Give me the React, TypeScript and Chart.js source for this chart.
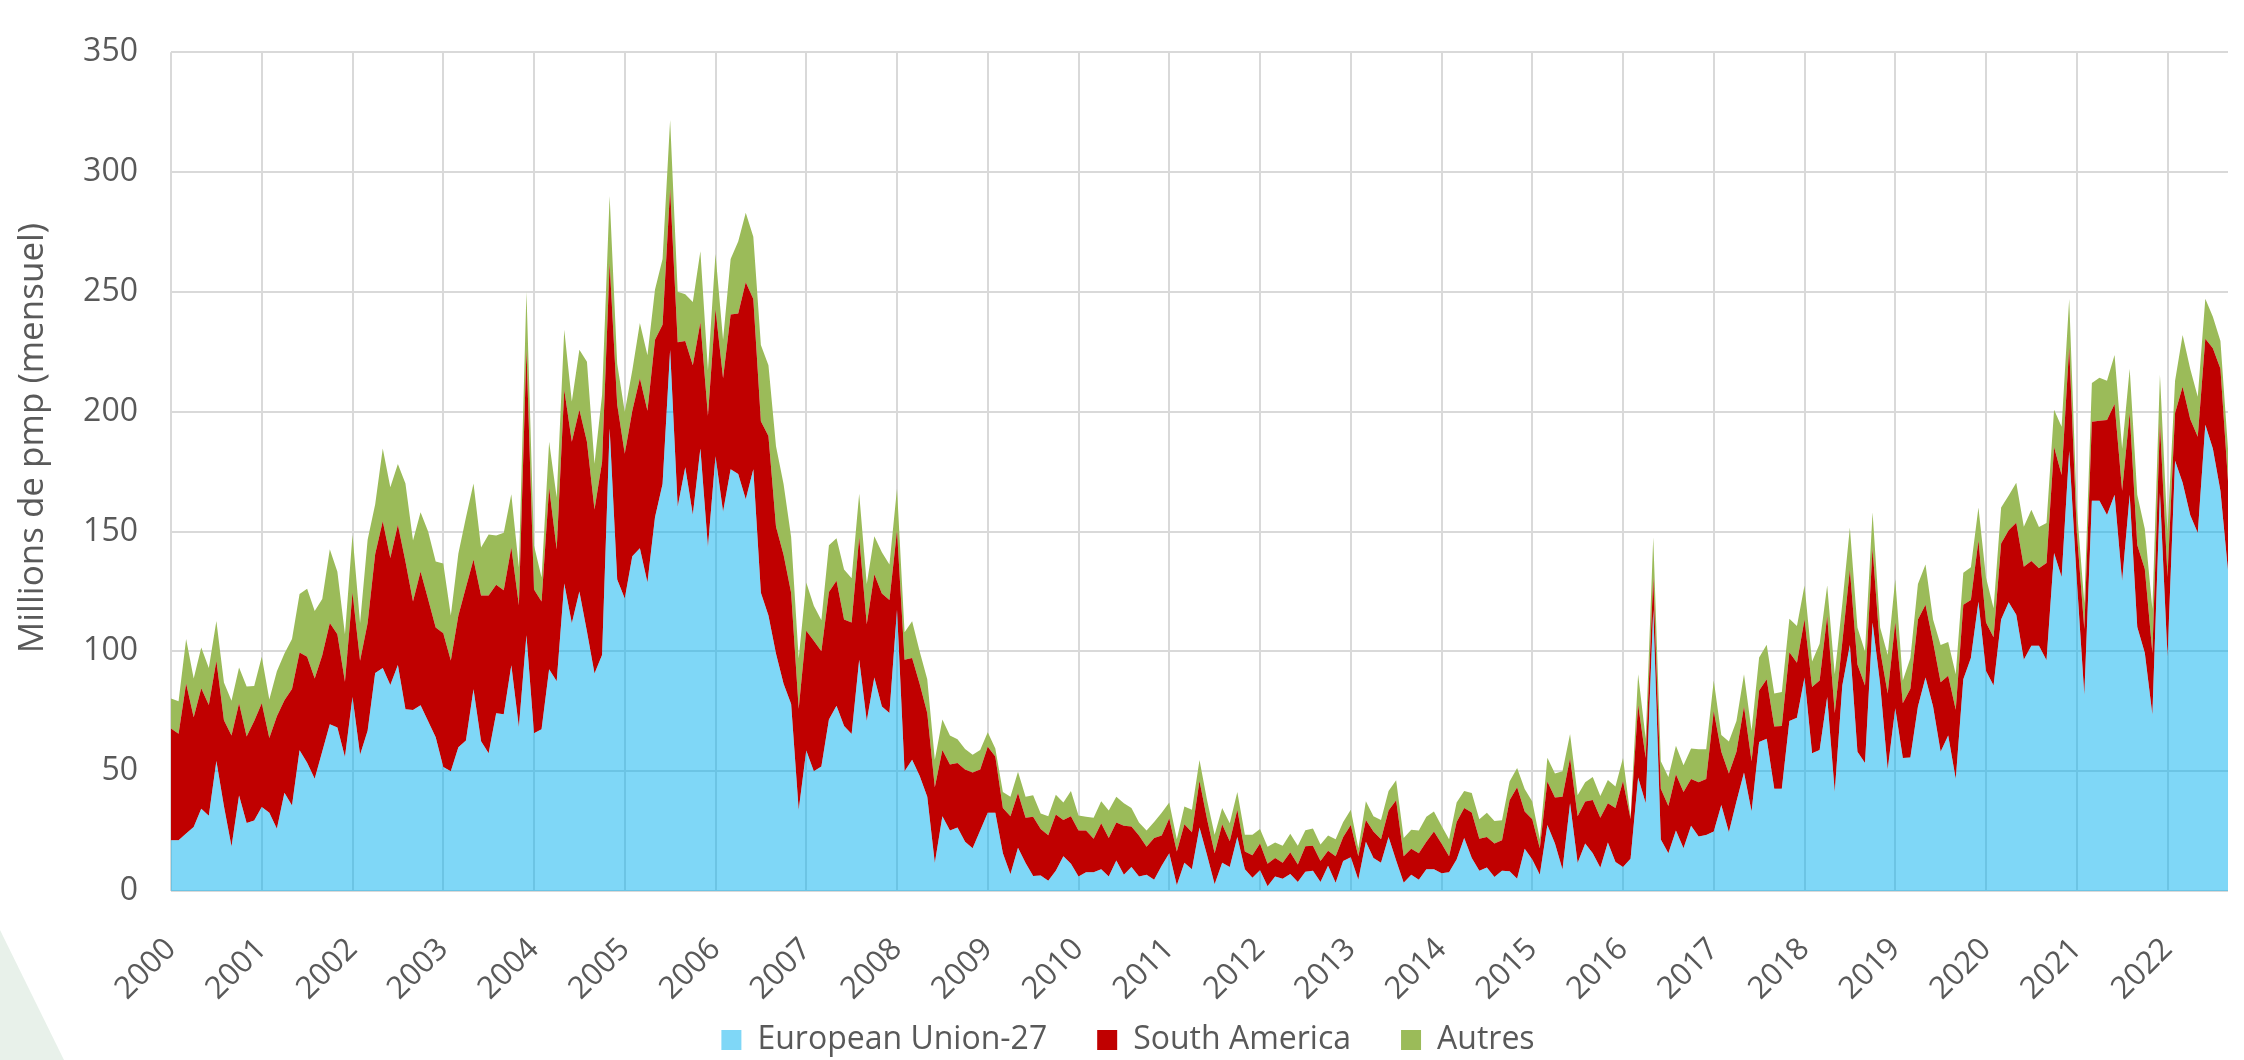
import React, { useEffect, useRef } from 'react';
import { Chart, registerables } from 'chart.js';

Chart.register(...registerables);

const years = ['2000', '2001', '2002', '2003', '2004', '2005', '2006', '2007', '2008', '2009', '2010', '2011',
  '2012', '2013', '2014', '2015', '2016', '2017', '2018', '2019', '2020', '2021', '2022'];
const monthsInLastYear = 9;

const monthLabels: string[] = [];
years.forEach((y, yi) => {
  const n = yi === years.length - 1 ? monthsInLastYear : 12;
  for (let m = 1; m <= n; m++) monthLabels.push(`${y}-${String(m).padStart(2, '0')}`);
});

const seriesNames = ['European Union-27', 'South America', 'Autres'];
const yAxisTitle = 'Millions de pmp (mensuel)';

const euValues = [
  21.2, 21.2, 24.0, 26.7, 34.3, 31.4, 54.2, 35.4, 18.6, 39.8, 28.4, 29.4,
  35.1, 32.7, 26.0, 41.0, 35.7, 58.7, 53.5, 46.8, 58.2, 69.6, 68.2, 55.9,
  81.0, 56.8, 66.9, 91.0, 93.0, 86.0, 94.3, 75.8, 75.5, 77.5, 70.8, 64.2,
  51.7, 50.0, 60.0, 62.8, 84.2, 62.5, 57.5, 74.2, 73.7, 94.2, 68.3, 106.7,
  65.8, 67.5, 92.5, 87.5, 128.3, 111.7, 125.0, 108.3, 90.8, 98.5, 193.0, 130.0,
  122.0, 139.7, 143.0, 128.7, 156.0, 169.8, 225.7, 160.3, 176.8, 157.0, 184.6, 143.5,
  181.4, 158.2, 176.0, 174.0, 163.5, 176.0, 124.5, 115.0, 99.0, 86.5, 78.0, 33.8,
  58.6, 50.0, 52.0, 71.6, 77.3, 68.9, 65.5, 96.5, 70.9, 89.1, 77.0, 74.3,
  117.4, 50.0, 54.8, 48.0, 39.3, 11.7, 31.2, 25.2, 26.5, 20.5, 17.8, 25.2,
  32.6, 32.6, 15.7, 7.0, 18.0, 11.7, 6.3, 6.5, 4.3, 8.4, 14.5, 11.4,
  6.0, 7.8, 7.8, 9.1, 6.0, 12.7, 6.8, 10.0, 6.0, 6.8, 4.7, 10.5,
  15.8, 2.4, 11.8, 9.1, 26.5, 14.9, 2.8, 11.8, 10.0, 22.5, 9.1, 5.5,
  8.7, 2.0, 6.0, 5.1, 7.1, 3.8, 8.0, 8.4, 3.8, 10.5, 3.4, 12.5,
  14.1, 4.7, 20.5, 13.8, 11.8, 22.5, 12.7, 3.4, 6.8, 4.7, 9.1, 9.1,
  7.4, 7.8, 13.1, 22.1, 13.8, 8.4, 9.8, 5.8, 8.4, 8.2, 5.1, 17.6,
  13.1, 6.8, 27.5, 19.8, 9.0, 36.6, 11.7, 19.8, 15.7, 9.7, 20.2, 12.1,
  10.0, 13.5, 47.4, 36.6, 117.4, 21.5, 15.7, 25.2, 17.8, 27.2, 22.7, 23.4,
  24.8, 35.9, 24.5, 37.3, 49.4, 33.2, 62.2, 63.5, 42.7, 42.7, 70.9, 72.3,
  89.1, 57.5, 58.8, 81.0, 41.3, 85.7, 102.6, 58.1, 53.4, 112.0, 86.4, 50.7,
  76.3, 55.5, 55.7, 77.0, 89.1, 77.0, 58.1, 64.9, 46.7, 88.4, 97.2, 120.7,
  91.8, 85.7, 113.3, 120.5, 115.3, 96.5, 102.3, 102.3, 96.3, 141.0, 131.0, 183.6,
  130.0, 81.8, 162.8, 162.8, 156.9, 165.3, 129.4, 165.3, 110.2, 99.3, 73.5, 166.1,
  97.7, 179.5, 170.3, 156.9, 149.4, 194.5, 184.5, 166.9, 133.6,
];

const southAmericaValues = [
  46.6, 44.4, 62.6, 45.8, 50.3, 46.2, 41.9, 35.8, 46.3, 38.5, 36.1, 41.5,
  43.2, 31.1, 46.9, 38.6, 48.6, 40.8, 44.2, 41.9, 40.2, 42.2, 38.9, 31.4,
  43.5, 39.3, 44.9, 49.6, 61.3, 53.0, 58.5, 61.7, 45.3, 55.8, 50.9, 45.8,
  55.8, 46.2, 55.0, 63.9, 54.1, 60.8, 65.8, 53.6, 51.8, 49.1, 50.9, 119.1,
  60.0, 53.3, 75.8, 55.0, 80.9, 75.8, 75.8, 79.2, 68.4, 80.5, 69.0, 73.0,
  60.5, 60.7, 71.0, 71.7, 74.0, 66.5, 67.3, 68.7, 52.7, 62.4, 52.7, 54.8,
  61.2, 55.8, 64.5, 67.0, 90.5, 71.0, 71.5, 74.9, 53.0, 53.8, 46.5, 42.2,
  50.0, 54.4, 48.0, 53.2, 52.2, 44.4, 46.5, 51.1, 40.4, 43.1, 47.1, 47.1,
  32.9, 46.5, 42.4, 38.4, 35.0, 31.6, 27.6, 27.6, 26.9, 30.2, 31.6, 25.5,
  27.6, 23.5, 18.9, 24.2, 22.9, 18.9, 24.7, 19.4, 19.0, 23.5, 15.1, 19.8,
  19.2, 17.4, 14.0, 19.2, 16.1, 15.9, 20.4, 16.9, 17.2, 11.7, 17.4, 12.7,
  14.4, 14.1, 16.1, 15.4, 19.5, 15.0, 13.0, 16.1, 10.8, 11.4, 7.4, 9.4,
  11.1, 9.4, 7.8, 6.7, 9.1, 7.3, 10.7, 10.5, 8.7, 6.3, 11.1, 10.0,
  13.4, 9.8, 9.1, 11.0, 9.8, 11.1, 25.2, 11.1, 10.8, 11.1, 11.4, 15.7,
  12.4, 6.7, 15.7, 12.5, 19.0, 13.4, 12.7, 14.0, 12.8, 29.7, 38.2, 15.6,
  16.8, 11.0, 18.2, 19.2, 30.3, 18.9, 19.5, 17.5, 22.3, 20.9, 16.4, 22.5,
  35.8, 16.5, 30.3, 18.9, 13.4, 21.2, 19.8, 23.5, 23.5, 19.5, 22.7, 23.3,
  50.2, 22.2, 24.5, 20.8, 27.6, 20.9, 21.5, 24.9, 25.9, 26.2, 28.7, 22.9,
  24.2, 27.6, 29.0, 33.7, 33.0, 18.2, 31.6, 36.4, 32.3, 30.9, 14.1, 31.7,
  35.7, 22.8, 28.7, 36.3, 30.3, 26.9, 29.0, 24.9, 28.9, 31.0, 24.2, 25.6,
  20.2, 20.2, 31.7, 30.0, 38.4, 38.8, 35.4, 32.4, 40.6, 44.3, 42.6, 43.4,
  20.0, 27.5, 33.0, 33.4, 39.6, 37.9, 37.6, 34.2, 34.2, 35.1, 25.8, 29.2,
  33.3, 20.0, 40.1, 40.1, 40.1, 35.9, 42.0, 51.0, 37.5,
];

const otherValues = [
  12.5, 13.6, 18.5, 16.2, 17.0, 15.4, 16.6, 15.8, 14.5, 15.0, 20.8, 14.6,
  19.4, 16.1, 18.8, 19.5, 20.8, 24.4, 28.4, 28.1, 23.4, 30.8, 26.1, 19.8,
  24.2, 15.7, 34.8, 20.8, 30.3, 29.5, 25.4, 32.5, 25.4, 24.7, 28.3, 27.5,
  29.2, 18.8, 25.8, 29.1, 31.7, 20.0, 25.5, 20.5, 24.0, 22.2, 15.8, 24.2,
  18.4, 10.0, 19.2, 21.7, 25.0, 16.7, 25.0, 33.3, 19.1, 28.0, 28.0, 17.0,
  17.5, 16.9, 23.0, 23.2, 21.0, 27.4, 28.7, 21.0, 19.5, 26.4, 29.6, 19.0,
  23.2, 16.0, 23.2, 30.0, 29.0, 26.0, 31.8, 29.5, 33.6, 29.5, 23.2, 21.0,
  20.1, 14.6, 13.0, 19.5, 17.7, 20.9, 18.5, 18.2, 16.8, 15.8, 17.2, 14.8,
  17.5, 11.5, 15.4, 13.5, 14.1, 11.5, 12.8, 12.1, 9.9, 8.5, 7.4, 8.1,
  6.0, 3.4, 6.7, 8.1, 8.9, 8.7, 9.0, 6.4, 7.9, 8.3, 7.3, 10.5,
  6.3, 5.8, 8.8, 9.2, 11.5, 10.7, 9.4, 7.7, 5.4, 6.7, 6.7, 9.4,
  6.7, 5.1, 7.4, 9.4, 8.7, 8.0, 7.7, 6.7, 7.5, 7.4, 7.0, 8.6,
  6.1, 7.1, 6.4, 7.1, 7.7, 7.8, 6.7, 7.2, 6.9, 6.4, 7.1, 6.3,
  6.4, 3.3, 7.9, 6.4, 8.0, 8.1, 8.3, 7.6, 8.0, 9.4, 10.5, 8.4,
  7.4, 7.1, 8.1, 7.1, 8.1, 8.1, 10.1, 9.4, 8.3, 7.8, 8.0, 9.4,
  7.4, 3.8, 9.9, 10.0, 10.7, 10.0, 8.8, 8.1, 9.6, 9.0, 9.7, 9.0,
  9.7, 1.0, 12.7, 8.0, 16.8, 11.4, 12.1, 11.9, 11.2, 12.8, 13.7, 12.4,
  12.8, 7.0, 13.4, 12.8, 13.4, 12.8, 13.7, 14.4, 13.8, 14.1, 14.0, 15.4,
  14.2, 10.7, 15.4, 12.8, 16.1, 16.1, 17.5, 15.5, 14.2, 15.1, 9.5, 16.1,
  18.1, 9.5, 12.8, 14.8, 16.8, 9.4, 15.5, 14.1, 14.8, 13.4, 13.7, 13.7,
  18.8, 12.1, 15.0, 14.5, 16.6, 16.7, 21.4, 17.2, 16.7, 15.5, 20.1, 20.0,
  10.0, 10.9, 16.2, 18.0, 16.4, 20.5, 17.5, 18.4, 20.9, 16.7, 18.4, 20.1,
  19.0, 13.4, 21.6, 20.9, 16.7, 16.7, 13.1, 11.6, 13.4,
];

const W = 2244;
const H = 1060;
const TEXT = '#595959';
const GRID = '#D9D9D9';
const FONT = 'Open Sans';
const LEGEND_FONT = 32;
const LEGEND_PAD = 50;
const LEGEND_CENTER_Y = 1040;
const LEGEND_SHIFT_X = 14;
const PLOT_BOTTOM = 891;
const XAXIS_BOTTOM = 1000;
const Y_TITLE_X = 33;
const Y_TITLE_Y = 438;
const Y_TITLE_FONT = 35;

// Moves the legend's drawing origin so its row sits at the wanted place,
// while the layout box below the x axis stays tall enough for the tick labels.
const legendPlacer = {
  id: 'legendPlacer',
  afterLayout(chart: any) {
    const lg = chart.legend;
    if (!lg) return;
    lg.top = LEGEND_CENTER_Y - LEGEND_PAD - LEGEND_FONT / 2;
    lg.bottom = H;
    lg.height = lg.bottom - lg.top;
    lg.left += LEGEND_SHIFT_X;
    lg.right += LEGEND_SHIFT_X;
  },
};

// Vertical axis title, placed where the reference has it.
const yTitlePlugin = {
  id: 'yTitlePlugin',
  afterDraw(chart: any) {
    const ctx = chart.ctx;
    ctx.save();
    ctx.translate(Y_TITLE_X, Y_TITLE_Y);
    ctx.rotate(-Math.PI / 2);
    ctx.font = `${Y_TITLE_FONT}px "${FONT}"`;
    ctx.fillStyle = TEXT;
    ctx.textAlign = 'center';
    ctx.textBaseline = 'middle';
    ctx.fillText(yAxisTitle, 0, 0);
    ctx.restore();
  },
};

export default function App() {
  const canvasRef = useRef<HTMLCanvasElement | null>(null);

  useEffect(() => {
    const canvas = canvasRef.current;
    if (!canvas) return;
    Chart.defaults.font.family = FONT;
    const chart = new Chart(canvas, {
      type: 'line',
      data: {
        labels: monthLabels,
        datasets: [
          {
            label: seriesNames[0],
            data: euValues,
            backgroundColor: 'rgba(0,176,240,0.5)',
            borderColor: 'rgba(0,0,0,0)',
            borderWidth: 0,
            pointRadius: 0,
            fill: 'origin',
            tension: 0,
          },
          {
            label: seriesNames[1],
            data: southAmericaValues,
            backgroundColor: '#C00000',
            borderColor: 'rgba(0,0,0,0)',
            borderWidth: 0,
            pointRadius: 0,
            fill: '-1',
            tension: 0,
          },
          {
            label: seriesNames[2],
            data: otherValues,
            backgroundColor: '#9BBB59',
            borderColor: 'rgba(0,0,0,0)',
            borderWidth: 0,
            pointRadius: 0,
            fill: '-1',
            tension: 0,
          },
        ],
      },
      options: {
        responsive: false,
        animation: false,
        events: [],
        layout: { padding: { top: 24, right: 16, bottom: 0, left: 0 } },
        plugins: {
          legend: {
            position: 'bottom',
            maxHeight: H - XAXIS_BOTTOM,
            labels: {
              font: { family: FONT, size: LEGEND_FONT },
              color: TEXT,
              boxWidth: 20,
              boxHeight: 20,
              padding: LEGEND_PAD,
            },
          },
          tooltip: { enabled: false },
        },
        scales: {
          x: {
            type: 'category',
            offset: false,
            grid: {
              color: (ctx: any) => (ctx.index % 12 === 0 ? GRID : 'rgba(0,0,0,0)'),
              lineWidth: 2,
              drawTicks: false,
            },
            border: { display: false },
            ticks: {
              autoSkip: false,
              maxRotation: 45,
              minRotation: 45,
              padding: 40,
              color: TEXT,
              font: { family: FONT, size: 31 },
              callback: (_v: any, i: number) => (i % 12 === 0 ? years[i / 12] : ''),
            },
            afterFit: (s: any) => {
              s.height = XAXIS_BOTTOM - PLOT_BOTTOM;
              s.paddingRight = 0;
            },
          },
          y: {
            stacked: true,
            min: 0,
            max: 350,
            grid: { color: GRID, lineWidth: 2, drawTicks: false },
            border: { display: false },
            ticks: {
              stepSize: 50,
              padding: 33,
              color: TEXT,
              font: { family: FONT, size: 32 },
            },
            title: { display: false, text: yAxisTitle },
            afterFit: (s: any) => {
              s.width = 171;
            },
          },
        },
      } as any,
      plugins: [legendPlacer, yTitlePlugin],
    });
    return () => chart.destroy();
  }, []);

  return (
    <div style={{ position: 'absolute', left: 0, top: 0, width: W, height: H, background: '#fff', overflow: 'hidden' }}>
      <div
        style={{
          position: 'absolute',
          left: 0,
          top: 0,
          width: W,
          height: H,
          background: '#E8F1EA',
          clipPath: 'polygon(0px 930px, 64px 1060px, 0px 1060px)',
        }}
      />
      <canvas
        ref={canvasRef}
        width={W}
        height={H}
        style={{ position: 'absolute', left: 0, top: 0, display: 'block', width: W, height: H }}
      />
    </div>
  );
}
